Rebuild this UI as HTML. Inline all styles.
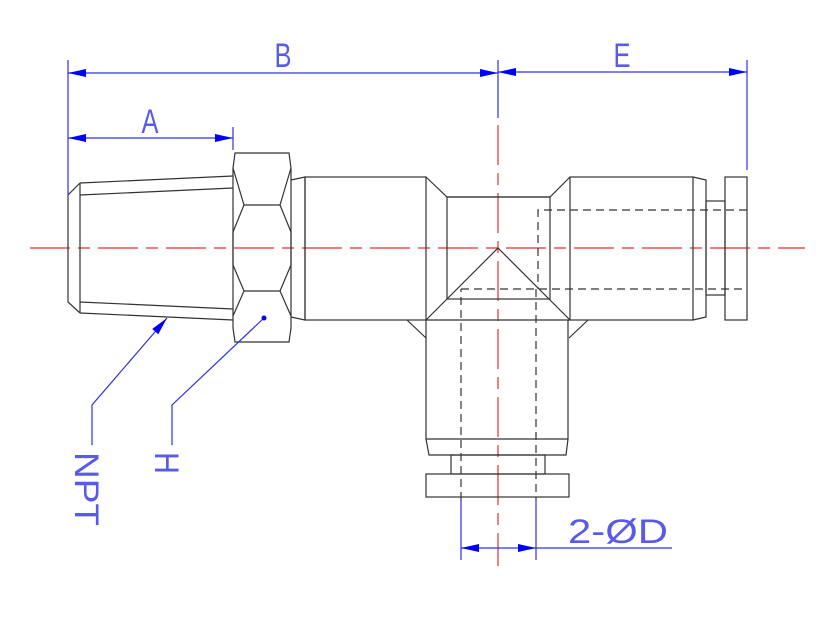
<!DOCTYPE html>
<html><head><meta charset="utf-8"><style>html,body{margin:0;padding:0;background:#fff}svg{display:block}text{font-family:"Liberation Sans",sans-serif;fill:#5a5ae8}</style></head>
<body>
<svg width="833" height="617" viewBox="0 0 833 617" xmlns="http://www.w3.org/2000/svg">
<defs>
<marker id="ar" viewBox="0 0 18 8" refX="18" refY="4" markerWidth="18" markerHeight="8" markerUnits="userSpaceOnUse" orient="auto-start-reverse"><path d="M0,0 L18,4 L0,8 Z" fill="#0000ff"/></marker>
</defs>
<g stroke="#e03030" stroke-width="1.2" fill="none">
<line x1="30" y1="248" x2="805" y2="248" stroke-dasharray="40,8,12,8"/>
<line x1="498" y1="125" x2="498" y2="566" stroke-dasharray="40,8,12,8"/>
</g>
<g stroke="#333" stroke-width="1.2" fill="none">
<polyline points="80,183 68,195 68,302 80,313"/>
<line x1="80" y1="183" x2="80" y2="313"/>
<line x1="80" y1="183" x2="233" y2="176"/>
<line x1="80" y1="195" x2="233" y2="188"/>
<line x1="80" y1="302" x2="233" y2="309"/>
<line x1="80" y1="313" x2="233" y2="320"/>
<polygon points="235,153 289,153 291,168 291,328 289,342 235,342 233,328 233,168"/>
<polyline points="233,168 244,205 280,205 291,168"/>
<polyline points="244,205 233,232 233,265 244,291 233,316"/>
<polyline points="280,205 291,232 291,265 280,291 291,316"/>
<line x1="244" y1="291" x2="280" y2="291"/>
<polyline points="291,180 305,177 305,320 291,317"/>
<rect x="305" y="177" width="121" height="143"/>
<polyline points="426,177 447,197 550,197 570,177"/>
<rect x="447" y="197" width="103" height="102"/>
<rect x="570" y="177" width="123" height="143"/>
<polyline points="693,177 706,180 706,317 693,320"/>
<rect x="706" y="201" width="19" height="94"/>
<rect x="725" y="177" width="22" height="143"/>
<line x1="426" y1="320" x2="570" y2="320"/>
<polyline points="426,320 498,248 570,320"/>
<line x1="407" y1="320" x2="426" y2="338"/>
<line x1="588" y1="320" x2="569" y2="338"/>
<polyline points="426,320 426,439 568,439 568,320"/>
<polyline points="426,439 429,455 566,455 568,439"/>
<rect x="451" y="455" width="94" height="19"/>
<rect x="426" y="474" width="143" height="23"/>
</g>
<g stroke="#333" stroke-width="1.2" fill="none" stroke-dasharray="8,5">
<polyline points="747,210 538,210 538,289"/>
<line x1="461" y1="289" x2="747" y2="289"/>
<polyline points="461,500 461,289"/>
<line x1="536" y1="289" x2="536" y2="500"/>
</g>
<g stroke="#3030f0" stroke-width="1.2" fill="none">
<line x1="68" y1="60" x2="68" y2="195"/>
<line x1="498" y1="60" x2="498" y2="118"/>
<line x1="747" y1="60" x2="747" y2="170"/>
<line x1="233" y1="127" x2="233" y2="150"/>
<line x1="68" y1="73" x2="498" y2="73" marker-start="url(#ar)" marker-end="url(#ar)"/>
<line x1="498" y1="72" x2="747" y2="72" marker-start="url(#ar)" marker-end="url(#ar)"/>
<line x1="68" y1="138" x2="233" y2="138" marker-start="url(#ar)" marker-end="url(#ar)"/>
<line x1="461" y1="500" x2="461" y2="560"/>
<line x1="536" y1="500" x2="536" y2="560"/>
<line x1="461" y1="548" x2="536" y2="548" marker-start="url(#ar)" marker-end="url(#ar)"/>
<line x1="536" y1="548" x2="672" y2="548"/>
<polyline points="167,318 92,405 92,445" marker-start="url(#ar)"/>
<polyline points="264,318 172,405 172,445"/>
</g>
<circle cx="264" cy="318" r="2.5" fill="#0000ff"/>
<g font-size="34">
<text x="283" y="67" text-anchor="middle" transform="translate(283,0) scale(0.75,1) translate(-283,0)">B</text>
<text x="622" y="67" text-anchor="middle" transform="translate(622,0) scale(0.75,1) translate(-622,0)">E</text>
<text x="150" y="133" text-anchor="middle" transform="translate(150,0) scale(0.75,1) translate(-150,0)">A</text>
<text x="618" y="543" text-anchor="middle" textLength="100" lengthAdjust="spacingAndGlyphs">2-ØD</text>
<text x="0" y="0" transform="translate(75,452) rotate(90)" textLength="74" lengthAdjust="spacingAndGlyphs">NPT</text>
<text x="0" y="0" transform="translate(155,452) rotate(90)" textLength="22" lengthAdjust="spacingAndGlyphs">H</text>
</g>
</svg>
</body></html>
